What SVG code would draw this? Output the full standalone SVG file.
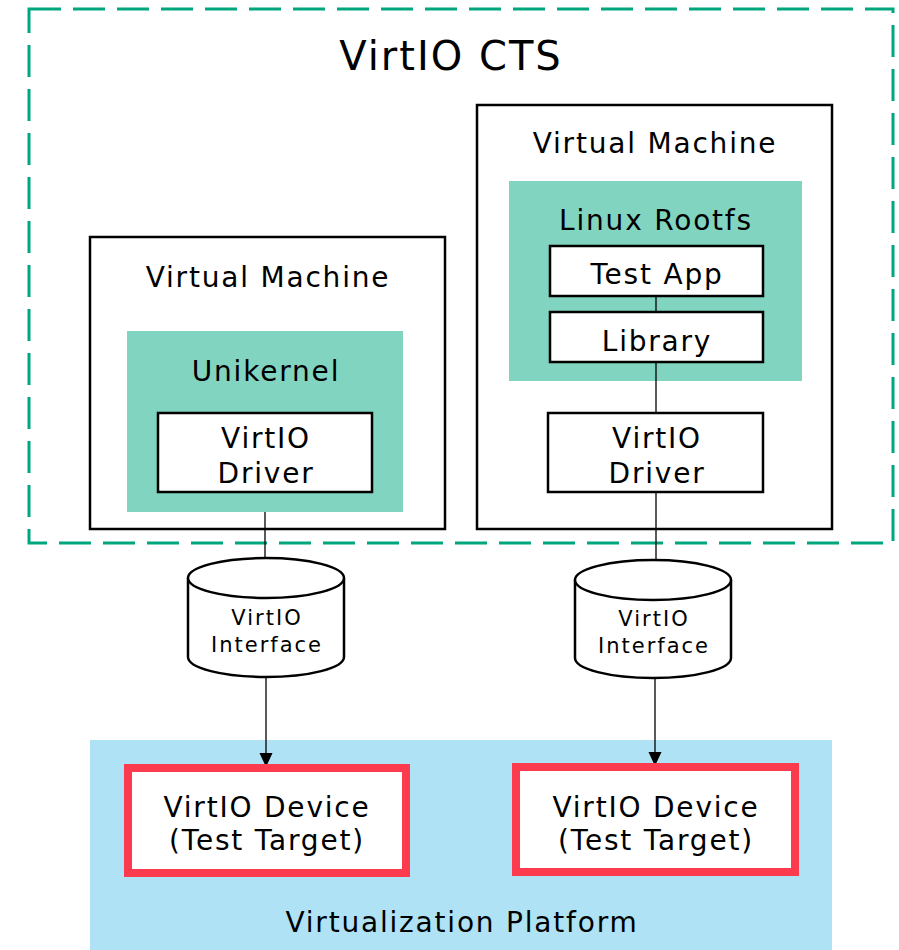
<svg xmlns="http://www.w3.org/2000/svg" width="899" height="950" viewBox="0 0 899 950">
<defs>
<style>
text{font-family:"DejaVu Sans","Noto Sans",sans-serif;fill:#000;text-anchor:middle}
.t30{font-size:28px;letter-spacing:1.8px}
.t22{font-size:21px;letter-spacing:2px}
.box{fill:#fff;stroke:#000;stroke-width:2.5}
.teal{fill:#81d4bf}
.cyl{fill:#fff;stroke:#000;stroke-width:2.5}
.dev{fill:#fff;stroke:#fc3b4f;stroke-width:8}
.line{stroke:#000;stroke-width:1.3;fill:none}
</style>
<marker id="arr" viewBox="0 0 14 14" refX="14" refY="7" markerWidth="14" markerHeight="14" markerUnits="userSpaceOnUse" orient="auto">
<path d="M0,0.5 L14,7 L0,13.5 Z" fill="#000"/>
</marker>
</defs>
<rect width="899" height="950" fill="#fff"/>
<g id="platform">
<rect x="90" y="740" width="742" height="210" fill="#aee2f4"/>
<text class="t30" x="462" y="932">Virtualization Platform</text>
</g>
<g id="cts">
<rect x="29" y="9" width="864" height="534" fill="none" stroke="#00a67e" stroke-width="3" stroke-dasharray="32 12"/>
<text x="451" y="70" style="font-size:40px;letter-spacing:2px">VirtIO CTS</text>
</g>
<g id="vm-left">
<rect class="box" x="90" y="237" width="355" height="292"/>
<text class="t30" x="268" y="287">Virtual Machine</text>
</g>
<g id="unikernel">
<rect class="teal" x="127" y="331" width="276" height="181"/>
<text class="t30" x="266" y="381">Unikernel</text>
</g>
<g id="driver-left">
<rect class="box" x="158" y="413" width="214" height="79"/>
<text class="t30" x="266" y="448">VirtIO</text>
<text class="t30" x="266" y="483">Driver</text>
</g>
<g id="vm-right">
<rect class="box" x="477" y="105" width="355" height="424"/>
<text class="t30" x="655" y="153">Virtual Machine</text>
</g>
<g id="rootfs">
<rect class="teal" x="509" y="181" width="293" height="200"/>
<text class="t30" x="656" y="230">Linux Rootfs</text>
</g>
<g id="connectors">
<line class="line" x1="656" y1="296" x2="656" y2="312"/>
<line class="line" x1="656" y1="362" x2="656" y2="413"/>
<line class="line" x1="656" y1="492" x2="656" y2="560"/>
<line class="line" x1="265" y1="512" x2="265" y2="558"/>
<line class="line" x1="266" y1="677" x2="266" y2="767" marker-end="url(#arr)"/>
<line class="line" x1="655" y1="678" x2="655" y2="766" marker-end="url(#arr)"/>
</g>
<g id="testapp">
<rect class="box" x="550" y="246" width="213" height="50"/>
<text class="t30" x="657" y="284">Test App</text>
</g>
<g id="library">
<rect class="box" x="550" y="312" width="213" height="50"/>
<text class="t30" x="657" y="351">Library</text>
</g>
<g id="driver-right">
<rect class="box" x="548" y="413" width="215" height="79"/>
<text class="t30" x="657" y="448">VirtIO</text>
<text class="t30" x="657" y="483">Driver</text>
</g>
<g id="iface-left">
<path class="cyl" d="M188,578 L188,657 A78,20 0 0 0 344,657 L344,578 A78,20 0 0 0 188,578 Z"/>
<path class="cyl" d="M188,578 A78,20 0 0 0 344,578"/>
<text class="t22" x="267" y="625">VirtIO</text>
<text class="t22" x="267" y="652">Interface</text>
</g>
<g id="iface-right">
<path class="cyl" d="M575,580 L575,658 A78,20 0 0 0 731,658 L731,580 A78,20 0 0 0 575,580 Z"/>
<path class="cyl" d="M575,580 A78,20 0 0 0 731,580"/>
<text class="t22" x="654" y="626">VirtIO</text>
<text class="t22" x="654" y="653">Interface</text>
</g>
<g id="device-left">
<rect class="dev" x="128" y="768" width="278" height="105"/>
<text class="t30" x="267" y="817">VirtIO Device</text>
<text class="t30" x="267" y="850">(Test Target)</text>
</g>
<g id="device-right">
<rect class="dev" x="516" y="767" width="279" height="105"/>
<text class="t30" x="656" y="817">VirtIO Device</text>
<text class="t30" x="656" y="850">(Test Target)</text>
</g>
</svg>
